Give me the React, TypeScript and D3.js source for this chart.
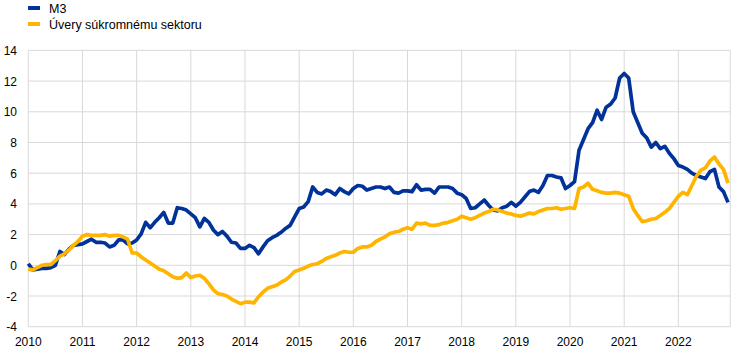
import React from "react";
import * as d3 from "d3";

// Monthly data, Jan 2010 – Dec 2022 (annual % changes)
const m3: number[] = [
  // 2010
  0.1, -0.3, -0.25, -0.2, -0.2, -0.15, 0.0, 0.9, 0.7, 1.05, 1.3, 1.35,
  // 2011
  1.4, 1.55, 1.7, 1.5, 1.5, 1.45, 1.2, 1.3, 1.65, 1.65, 1.4, 1.45,
  // 2012
  1.65, 2.05, 2.8, 2.45, 2.8, 3.1, 3.45, 2.75, 2.75, 3.75, 3.7, 3.6,
  // 2013
  3.35, 3.1, 2.5, 3.05, 2.8, 2.3, 2.0, 2.2, 1.9, 1.5, 1.45, 1.1,
  // 2014
  1.1, 1.3, 1.15, 0.75, 1.2, 1.6, 1.8, 1.95, 2.15, 2.4, 2.6, 3.15,
  // 2015
  3.7, 3.8, 4.15, 5.1, 4.75, 4.65, 4.9, 4.8, 4.6, 5.0, 4.8, 4.65,
  // 2016
  5.0, 5.2, 5.15, 4.9, 5.0, 5.1, 5.1, 5.0, 5.1, 4.75, 4.7, 4.85,
  // 2017
  4.85, 4.8, 5.25, 4.9, 4.95, 4.95, 4.7, 5.1, 5.1, 5.1, 5.0, 4.7,
  // 2018
  4.6, 4.35, 3.7, 3.75, 4.0, 4.25, 3.9, 3.6, 3.55, 3.75, 3.85, 4.1,
  // 2019
  3.85, 4.1, 4.45, 4.8, 4.9, 4.75, 5.2, 5.85, 5.85, 5.75, 5.7, 5.0,
  // 2020
  5.2, 5.45, 7.5, 8.2, 8.9, 9.3, 10.1, 9.5, 10.3, 10.5, 10.9, 12.2,
  // 2021
  12.5, 12.2, 10.0, 9.3, 8.6, 8.3, 7.7, 8.0, 7.6, 7.75, 7.3, 6.95,
  // 2022
  6.5, 6.4, 6.25, 6.0, 5.85, 5.75, 5.65, 6.1, 6.25, 5.1, 4.8, 4.1,
];

const loans: number[] = [
  // 2010
  -0.25, -0.3, -0.15, 0.0, 0.05, 0.05, 0.3, 0.6, 0.75, 1.0, 1.3, 1.55,
  // 2011
  1.9, 2.0, 1.95, 1.95, 1.95, 2.0, 1.9, 1.95, 1.95, 1.85, 1.7, 0.8,
  // 2012
  0.8, 0.55, 0.35, 0.15, -0.05, -0.25, -0.35, -0.55, -0.75, -0.85, -0.8, -0.5,
  // 2013
  -0.8, -0.7, -0.65, -0.85, -1.2, -1.6, -1.85, -1.9, -2.0, -2.2, -2.35, -2.5,
  // 2014
  -2.4, -2.4, -2.45, -2.05, -1.75, -1.5, -1.4, -1.3, -1.1, -0.95, -0.7, -0.4,
  // 2015
  -0.3, -0.2, -0.05, 0.05, 0.1, 0.25, 0.45, 0.55, 0.65, 0.8, 0.9, 0.85,
  // 2016
  0.85, 1.1, 1.2, 1.2, 1.3, 1.55, 1.7, 1.85, 2.05, 2.15, 2.2, 2.35,
  // 2017
  2.45, 2.35, 2.75, 2.7, 2.75, 2.6, 2.6, 2.65, 2.75, 2.8, 2.9, 3.0,
  // 2018
  3.2, 3.1, 3.0, 3.1, 3.25, 3.4, 3.5, 3.65, 3.6, 3.5, 3.4, 3.35,
  // 2019
  3.25, 3.2, 3.3, 3.4, 3.35, 3.5, 3.6, 3.7, 3.7, 3.75, 3.65, 3.7,
  // 2020
  3.75, 3.7, 5.0, 5.1, 5.35, 4.95, 4.85, 4.75, 4.7, 4.7, 4.75, 4.7,
  // 2021
  4.6, 4.5, 3.7, 3.25, 2.85, 2.9, 3.0, 3.05, 3.25, 3.45, 3.7, 4.1,
  // 2022
  4.5, 4.75, 4.6, 5.2, 5.8, 6.2, 6.35, 6.8, 7.05, 6.6, 6.25, 5.35,
];

const yearLabels: string[] = [
  "2010", "2011", "2012", "2013", "2014", "2015", "2016",
  "2017", "2018", "2019", "2020", "2021", "2022",
];
const yTicks: number[] = [-4, -2, 0, 2, 4, 6, 8, 10, 12, 14];

const seriesNames = ["M3", "Úvery súkromnému sektoru"];
const seriesColors = ["#003299", "#FFB400"];

const W = 744;
const H = 357;
const FONT = "'Liberation Sans', Arial, sans-serif";

export default function App() {
  const nMonths = m3.length;
  const x = d3.scaleLinear().domain([0, nMonths - 1]).range([28.3, 728]);
  const y = d3.scaleLinear().domain([-4, 14]).range([326.7, 50.4]);
  const xLeft = x(0);
  const xRight = x(nMonths - 0.5);

  const line = d3
    .line<number>()
    .x((_, i) => x(i))
    .y((d) => y(d));

  const series = [m3, loans];

  return (
    <svg
      width={W}
      height={H}
      style={{ position: "absolute", left: 0, top: 0, background: "#fff" }}
      fontFamily={FONT}
    >
      {/* horizontal gridlines */}
      {yTicks.map((t) => (
        <line
          key={"h" + t}
          x1={xLeft}
          x2={xRight}
          y1={y(t)}
          y2={y(t)}
          stroke="#d9d9d9"
          strokeWidth={1}
        />
      ))}
      {/* vertical gridlines */}
      {yearLabels.map((lab, k) => (
        <line
          key={"v" + lab}
          x1={x(k * 12)}
          x2={x(k * 12)}
          y1={y(14)}
          y2={y(-4)}
          stroke="#d9d9d9"
          strokeWidth={1}
        />
      ))}
      <line x1={xRight} x2={xRight} y1={y(14)} y2={y(-4)} stroke="#d9d9d9" strokeWidth={1} />

      {/* y tick labels */}
      {yTicks.map((t) => (
        <text
          key={"yl" + t}
          x={17}
          y={y(t) + 4.5}
          textAnchor="end"
          fontSize={12}
          fill="#000"
        >
          {t}
        </text>
      ))}
      {/* x tick labels */}
      {yearLabels.map((lab, k) => (
        <text
          key={"xl" + lab}
          x={x(k * 12)}
          y={346}
          textAnchor="middle"
          fontSize={12}
          fill="#000"
        >
          {lab}
        </text>
      ))}

      {/* lines */}
      {series.map((s, si) => (
        <path
          key={"s" + si}
          d={line(s) || ""}
          fill="none"
          stroke={seriesColors[si]}
          strokeWidth={3.7}
          strokeLinejoin="round"
        />
      ))}

      {/* legend */}
      {seriesNames.map((name, si) => (
        <g key={"lg" + si} transform={`translate(28, ${8 + si * 16})`}>
          <rect x={0} y={-2} width={12} height={4} fill={seriesColors[si]} />
          <text x={21} y={4.5} fontSize={12.5} fill="#000">
            {name}
          </text>
        </g>
      ))}
    </svg>
  );
}
